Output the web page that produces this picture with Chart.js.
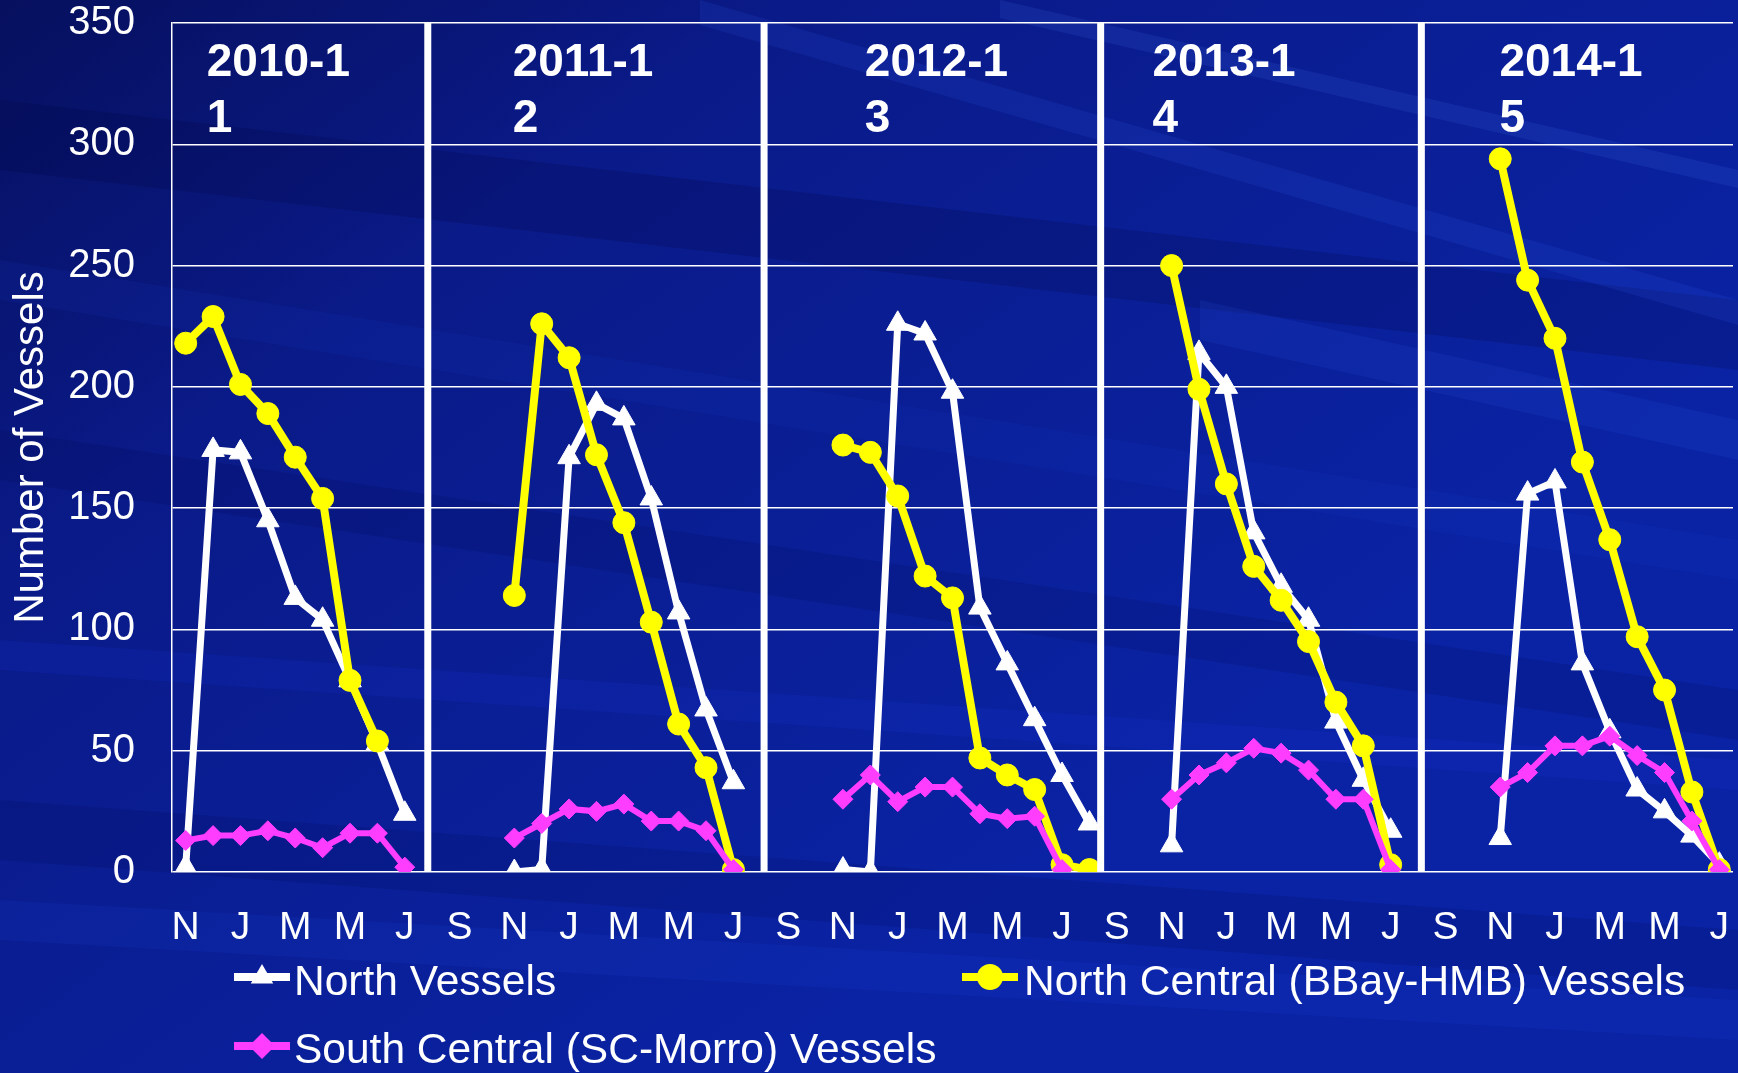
<!DOCTYPE html>
<html><head><meta charset="utf-8">
<script src="https://cdn.jsdelivr.net/npm/chart.js@4.4.1/dist/chart.umd.min.js"></script>
<style>html,body{margin:0;padding:0;background:#0a1a88;overflow:hidden}canvas{display:block}</style>
</head><body>
<canvas id="c" width="1738" height="1073"></canvas>
<script>
// ---------- DATA ----------
const monthLabels = [
  'N','D','J','F','M','A','M','J','J','A','S','O',
  'N','D','J','F','M','A','M','J','J','A','S','O',
  'N','D','J','F','M','A','M','J','J','A','S','O',
  'N','D','J','F','M','A','M','J','J','A','S','O',
  'N','D','J','F','M','A','M','J','J'
];
const seasonStart = [0, 12, 24, 36, 48];
const seasonTitles = [['2010-1','1'], ['2011-1','2'], ['2012-1','3'], ['2013-1','4'], ['2014-1','5']];
const seriesNames = ['North Vessels', 'North Central (BBay-HMB) Vessels', 'South Central (SC-Morro) Vessels'];

const northVessels = [
  [2, 174, 173, 145, 113, 104, 79, 53, 24],
  [0, 1, 171, 193, 187, 154, 107, 67, 37],
  [1, 0, 226, 222, 198, 109, 86, 63, 40, 20],
  [11, 214, 200, 140, 118, 104, 62, 38, 17],
  [14, 156, 161, 86, 58, 34, 25, 15, 3]
];
const northCentralVessels = [
  [218, 229, 201, 189, 171, 154, 79, 54],
  [114, 226, 212, 172, 144, 103, 61, 43, 1],
  [176, 173, 155, 122, 113, 47, 40, 34, 3, 1],
  [250, 199, 160, 126, 112, 95, 70, 52, 3],
  [294, 244, 220, 169, 137, 97, 75, 33, 1]
];
const southCentralVessels = [
  [13, 15, 15, 17, 14, 10, 16, 16, 2],
  [14, 20, 26, 25, 28, 21, 21, 17, 1],
  [30, 40, 29, 35, 35, 24, 22, 23, 1],
  [30, 40, 45, 51, 49, 42, 30, 30, 1],
  [35, 41, 52, 52, 56, 48, 41, 21, 1]
];
const yMin = 0, yMax = 350, yStep = 50;

// ---------- BUILD ----------
function place(seasons) {
  const out = new Array(monthLabels.length).fill(null);
  seasons.forEach((vals, s) => vals.forEach((v, i) => { out[seasonStart[s] + i] = v; }));
  return out;
}

const FONT = "'Liberation Sans', Arial, sans-serif";
Chart.defaults.font.family = FONT;
Chart.defaults.color = '#ffffff';

const colors = ['#ffffff', '#ffff00', '#ff3dff'];
const styles = ['triangle', 'circle', 'rectRot'];

// decoration settings (positions in axis units)
const deco = {
  separators: [8.84, 21.12, 33.41, 45.12],
  titleX: [0.77, 11.94, 24.8, 35.3, 47.97],
  titleY: [328, 305]
};

const bgPlugin = {
  id: 'bg',
  beforeDraw(chart) {
    const ctx = chart.ctx, w = chart.width, h = chart.height;
    ctx.save();
    const g = ctx.createLinearGradient(0, 0, w * 0.45, h);
    g.addColorStop(0, '#06105e');
    g.addColorStop(0.35, '#0a1a88');
    g.addColorStop(1, '#0a23a4');
    ctx.fillStyle = g;
    ctx.fillRect(0, 0, w, h);
    const bands = [
      [0, 100, w, 300, 70, 'rgba(0,0,50,0.16)'],
      [0, 260, w, 540, 40, 'rgba(30,70,220,0.10)'],
      [0, 430, w, 690, 50, 'rgba(0,0,60,0.12)'],
      [0, 640, w, 760, 30, 'rgba(20,50,210,0.18)'],
      [0, 800, w, 930, 60, 'rgba(0,0,60,0.12)'],
      [0, 900, w, 1000, 40, 'rgba(30,70,230,0.12)'],
      [700, 0, w, 300, 25, 'rgba(60,110,255,0.12)'],
      [1000, 0, w, 170, 18, 'rgba(80,130,255,0.12)'],
      [1200, 300, w, 420, 40, 'rgba(60,110,255,0.10)']
    ];
    bands.forEach(([x1, y1, x2, y2, t, c]) => {
      ctx.fillStyle = c;
      ctx.beginPath();
      ctx.moveTo(x1, y1); ctx.lineTo(x2, y2); ctx.lineTo(x2, y2 + t); ctx.lineTo(x1, y1 + t);
      ctx.closePath(); ctx.fill();
    });
    ctx.restore();
  }
};

function drawMarker(ctx, style, x, y, r, color) {
  ctx.fillStyle = color;
  ctx.beginPath();
  if (style === 'circle') {
    ctx.arc(x, y, r, 0, Math.PI * 2);
  } else if (style === 'triangle') {
    ctx.moveTo(x, y - r);
    ctx.lineTo(x + r * 0.866, y + r * 0.5);
    ctx.lineTo(x - r * 0.866, y + r * 0.5);
    ctx.closePath();
  } else {
    ctx.moveTo(x, y - r); ctx.lineTo(x + r, y); ctx.lineTo(x, y + r); ctx.lineTo(x - r, y); ctx.closePath();
  }
  ctx.fill();
}

const decoPlugin = {
  id: 'deco',
  afterDatasetsDraw(chart) {
    const ctx = chart.ctx, xs = chart.scales.x, a = chart.chartArea;
    ctx.save();
    ctx.strokeStyle = '#ffffff';
    ctx.lineWidth = 7;
    deco.separators.forEach(p => {
      const x = xs.getPixelForValue(p);
      ctx.beginPath(); ctx.moveTo(x, a.top); ctx.lineTo(x, a.bottom); ctx.stroke();
    });
    ctx.restore();
  },
  afterDraw(chart) {
    const ctx = chart.ctx, xs = chart.scales.x, ys = chart.scales.y;
    ctx.save();
    // season titles
    ctx.fillStyle = '#ffffff';
    ctx.font = 'bold 46px ' + FONT;
    ctx.textAlign = 'left';
    ctx.textBaseline = 'alphabetic';
    seasonTitles.forEach((lines, i) => {
      const x = xs.getPixelForValue(deco.titleX[i]);
      lines.forEach((t, j) => ctx.fillText(t, x, ys.getPixelForValue(deco.titleY[j])));
    });
    // legend
    const items = [
      {k: 0, lx: 234, tx: 294, ly: 977, by: 995},
      {k: 1, lx: 962, tx: 1024, ly: 977, by: 995},
      {k: 2, lx: 234, tx: 294, ly: 1046, by: 1063}
    ];
    ctx.font = '42.5px ' + FONT;
    items.forEach(it => {
      const ds = chart.data.datasets[it.k];
      ctx.strokeStyle = ds.borderColor;
      ctx.lineWidth = 8;
      ctx.beginPath(); ctx.moveTo(it.lx, it.ly); ctx.lineTo(it.lx + 56, it.ly); ctx.stroke();
      drawMarker(ctx, ds.pointStyle, it.lx + 28, it.ly, 13, ds.borderColor);
      ctx.fillStyle = '#ffffff';
      ctx.fillText(ds.label, it.tx, it.by);
    });
    ctx.restore();
  }
};

const seriesData = [place(northVessels), place(northCentralVessels), place(southCentralVessels)];
const widths = [7, 8, 6];
const radii = [13, 11, 10];
const orders = [2, 1, 0];

new Chart(document.getElementById('c'), {
  type: 'line',
  data: {
    labels: monthLabels,
    datasets: seriesData.map((d, k) => ({
      label: seriesNames[k],
      data: d,
      borderColor: colors[k],
      backgroundColor: colors[k],
      pointBackgroundColor: colors[k],
      pointBorderColor: colors[k],
      pointBorderWidth: 1,
      pointStyle: styles[k],
      pointRadius: radii[k],
      borderWidth: widths[k],
      tension: 0,
      spanGaps: false,
      order: orders[k]
    }))
  },
  options: {
    responsive: false,
    animation: false,
    devicePixelRatio: 1,
    layout: { autoPadding: false, padding: { top: 23, right: 5, bottom: 121, left: 0 } },
    plugins: { legend: { display: false }, tooltip: { enabled: false } },
    scales: {
      x: {
        type: 'category',
        offset: true,
        grid: { display: false },
        border: { display: false },
        ticks: {
          color: '#ffffff',
          font: { size: 39 },
          padding: 25,
          autoSkip: false,
          maxRotation: 0,
          callback: function (val, idx) { return idx % 2 === 0 ? this.getLabelForValue(val) : ''; }
        },
        afterFit(s) { s.height = 80; s.paddingLeft = 0; s.paddingRight = 0; }
      },
      y: {
        min: yMin, max: yMax,
        grid: { color: '#ffffff', lineWidth: 1.5, drawTicks: false },
        border: { display: true, color: '#ffffff', width: 1.5 },
        ticks: { stepSize: yStep, color: '#ffffff', font: { size: 40, lineHeight: 1.1 }, padding: 37 },
        title: { display: true, text: 'Number of Vessels', color: '#ffffff', font: { size: 42 }, padding: { top: 6, bottom: 0 } },
        afterFit(s) { s.width = 172; s.paddingTop = 0; s.paddingBottom = 0; }
      }
    }
  },
  plugins: [bgPlugin, decoPlugin]
});
</script>
</body></html>
